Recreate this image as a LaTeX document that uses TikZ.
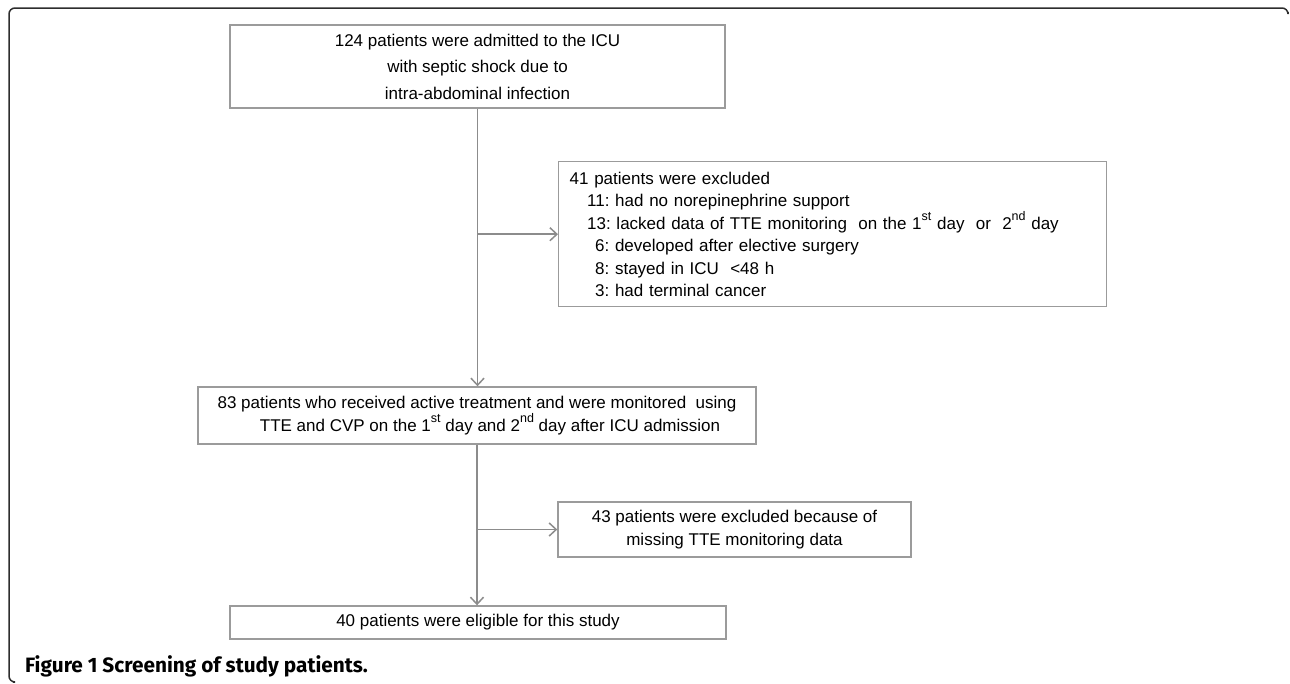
\documentclass[tikz,border=0pt]{standalone}
\usepackage{fontspec}
\setmainfont{Liberation Sans}
\newfontfamily\capfont{Fira Sans}
\usetikzlibrary{arrows.meta}
\definecolor{boxgray}{RGB}{155,155,155}
\definecolor{linkgray}{RGB}{140,140,140}
\definecolor{framegray}{RGB}{45,45,45}
\frenchspacing
\newcommand{\ordsup}[1]{\raisebox{0.48em}{\fontsize{12.5}{12}\selectfont #1}}

\begin{document}
\begin{tikzpicture}[x=1pt, y=-1pt,
  box/.style={draw=boxgray, line width=1.4pt, inner sep=0pt, align=center, font=\fontsize{17}{22.5}\selectfont},
  link/.style={draw=linkgray, line width=1.5pt, -{Straight Barb[length=7pt,width=13pt]}},
  frame/.style={draw=framegray, line width=1.5pt, rounded corners=6pt}]
\useasboundingbox (0,0) rectangle (1290,683);
\draw[frame] (1288,12) -- (1288,8) -- (9,8) -- (9,682) -- (13,682);

\node[box, minimum width=495pt, minimum height=83pt, font=\fontsize{17}{26.5}\selectfont] (admitted) at (477.5,66.5)
  {124 patients were admitted to the ICU\\with septic shock due to\\intra-abdominal infection};
\node[box, anchor=north west, minimum height=145pt, text width=526pt, inner xsep=11pt, align=left] (excluded) at (558,161)
  {41 patients were excluded\\
   \hspace*{17.5pt}11: had no norepinephrine support\\
   \hspace*{17.5pt}13: lacked data of TTE monitoring\ \ on the 1\ordsup{st} day\ \ or\ \ 2\ordsup{nd} day\\
   \hspace*{25.5pt}6: developed after elective surgery\\
   \hspace*{25.5pt}8: stayed in ICU\ \ <48 h\\
   \hspace*{25.5pt}3: had terminal cancer};
\node[box, minimum width=558pt, minimum height=57pt] (treated) at (477,415.5)
  {83 patients who received active treatment and were monitored\ \ using\\
   \hspace*{26pt}TTE and CVP on the 1\ordsup{st} day and 2\ordsup{nd} day after ICU admission};
\node[box, minimum width=353pt, minimum height=55pt] (lost) at (734.5,529.5)
  {43 patients were excluded because of\\missing TTE monitoring data};
\node[box, minimum width=496pt, minimum height=33pt] (eligible) at (478,622.5)
  {40 patients were eligible for this study};

\draw[link] (admitted.south) -- (admitted.south |- treated.north);
\draw[link] (admitted.south |- excluded.west) -- (excluded.west);
\draw[link] (treated.south) -- (treated.south |- eligible.north);
\draw[link] (treated.south |- lost.west) -- (lost.west);

\node[anchor=base west, inner sep=0pt, font=\capfont\fontsize{20.8}{22}\selectfont\bfseries] (caption) at (25,672)
  {Figure 1 Screening of study patients.};
\end{tikzpicture}
\end{document}
